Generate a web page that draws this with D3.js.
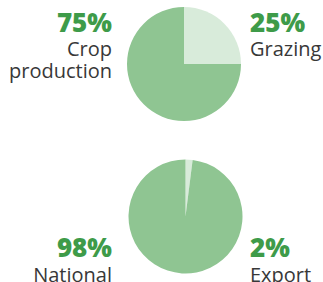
<!DOCTYPE html>
<html><head><meta charset="utf-8">
<script src="https://cdn.jsdelivr.net/npm/d3@7"></script>
<style>
html,body{margin:0;padding:0;background:#fff;}
svg{display:block;}
</style></head>
<body>
<script>
// Data
const landCategories = ["Grazing", "Crop production"];
const landValues = [25, 75];
const marketCategories = ["Export", "National"];
const marketValues = [2, 98];
const sliceColors = ["#d8ebda", "#8fc592"];

const W = 323, H = 282;
const svg = d3.select("body").append("svg").attr("width", W).attr("height", H);

const pie = d3.pie().sort(null).value(d => d.v);
const r = 57;
const arc = d3.arc().innerRadius(0).outerRadius(r);

function drawPie(cats, vals, cx, cy, labelPos) {
  const data = cats.map((c, i) => ({c, v: vals[i]}));
  const g = svg.append("g").attr("transform", `translate(${cx},${cy})`);
  g.selectAll("path").data(pie(data)).join("path")
    .attr("d", arc).attr("fill", (d, i) => sliceColors[i]);
  const total = d3.sum(vals);
  data.forEach((d, i) => {
    const p = labelPos[i];
    const pct = Math.round(d.v / total * 100) + "%";
    svg.append("text").attr("x", cx + p.dx).attr("y", cy + p.numDy)
      .attr("text-anchor", p.anchor)
      .attr("font-family", "'Open Sans', sans-serif")
      .attr("font-weight", 800).attr("font-size", 26)
      .attr("fill", "#3e9b49").text(pct);
    const t = svg.append("text").attr("x", cx + p.dx).attr("y", cy + p.dy)
      .attr("text-anchor", p.anchor)
      .attr("font-family", "'Open Sans', sans-serif")
      .attr("font-weight", 400);
    const words = p.lines || [d.c];
    words.forEach((w, k) => {
      t.append("tspan").attr("x", cx + p.dx).attr("dy", k === 0 ? 0 : 22)
        .attr("font-size", 20).attr("fill", "#383838").text(w);
    });
  });
}

drawPie(landCategories, landValues, 184, 64, [
  {dx: 66, numDy: -32, dy: -8, anchor: "start"},
  {dx: -72, numDy: -32, dy: -8, anchor: "end", lines: ["Crop", "production"]}
]);
drawPie(marketCategories, marketValues, 185.5, 216.5, [
  {dx: 64.5, numDy: 40.5, dy: 65, anchor: "start"},
  {dx: -73.5, numDy: 40.5, dy: 65, anchor: "end"}
]);
</script>
</body></html>
